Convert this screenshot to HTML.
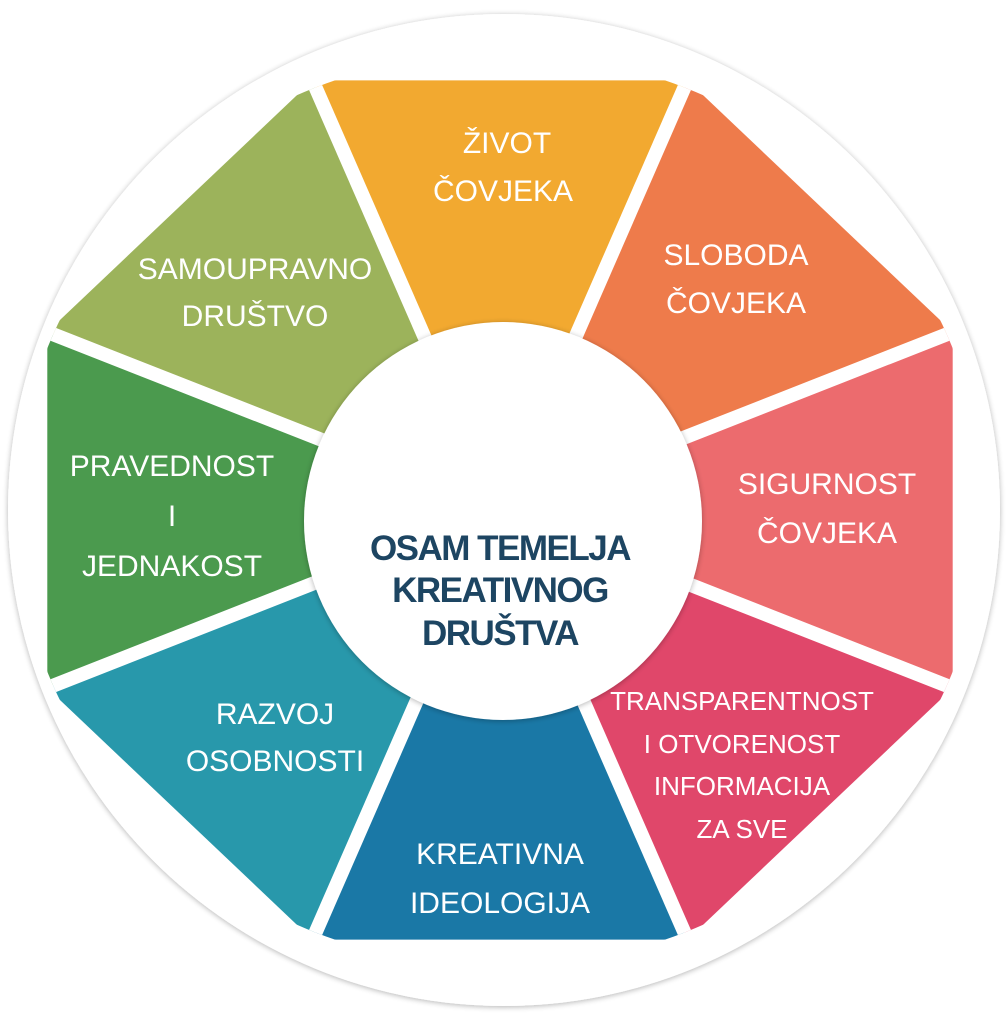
<!DOCTYPE html>
<html><head><meta charset="utf-8"><style>
html,body{margin:0;padding:0;background:#fff;width:1008px;height:1024px;overflow:hidden}
svg{display:block}
.t{font-family:"Liberation Sans",sans-serif;font-size:30px;fill:#fff;text-anchor:middle}
.s{font-size:26px}
.c{font-family:"Liberation Sans",sans-serif;font-weight:bold;font-size:35px;fill:#1d4562;text-anchor:middle;letter-spacing:-1.5px}
</style></head><body>
<svg width="1008" height="1024" viewBox="0 0 1008 1024">
<defs>
<filter id="sh" x="-10%" y="-10%" width="120%" height="120%"><feGaussianBlur in="SourceAlpha" stdDeviation="3"/><feOffset dx="0" dy="1"/><feComponentTransfer><feFuncA type="linear" slope="0.3"/></feComponentTransfer><feMerge><feMergeNode/><feMergeNode in="SourceGraphic"/></feMerge></filter>
<clipPath id="cl"><ellipse cx="500" cy="510" rx="484" ry="457"/></clipPath>
</defs>
<circle cx="504" cy="510" r="496" fill="#fff" filter="url(#sh)"/>
<g clip-path="url(#cl)">
<polygon points="500,510 312.5,80.4 687.5,80.4" fill="#f2a930"/>
<polygon points="500,510 687.5,80.4 952.7,332" fill="#ee7b4b"/>
<polygon points="500,510 952.7,332 952.7,688" fill="#ec6b6e"/>
<polygon points="500,510 952.7,688 687.5,939.6" fill="#e0476a"/>
<polygon points="500,510 687.5,939.6 312.5,939.6" fill="#1a78a6"/>
<polygon points="500,510 312.5,939.6 47.3,688" fill="#2898ab"/>
<polygon points="500,510 47.3,688 47.3,332" fill="#4b9a4e"/>
<polygon points="500,510 47.3,332 312.5,80.4" fill="#9cb35b"/>
<g stroke="#fff" stroke-width="14">
<line x1="500" y1="510" x2="312.5" y2="80.4"/>
<line x1="500" y1="510" x2="687.5" y2="80.4"/>
<line x1="500" y1="510" x2="952.7" y2="332"/>
<line x1="500" y1="510" x2="952.7" y2="688"/>
<line x1="500" y1="510" x2="687.5" y2="939.6"/>
<line x1="500" y1="510" x2="312.5" y2="939.6"/>
<line x1="500" y1="510" x2="47.3" y2="688"/>
<line x1="500" y1="510" x2="47.3" y2="332"/>
</g>
</g>
<circle cx="503" cy="521" r="199" fill="#fff" filter="url(#sh)"/>
<text class="t" x="507" y="153">ŽIVOT</text>
<text class="t" x="503" y="201">ČOVJEKA</text>
<text class="t" x="736" y="265">SLOBODA</text>
<text class="t" x="736" y="313">ČOVJEKA</text>
<text class="t" x="827" y="494">SIGURNOST</text>
<text class="t" x="827" y="543">ČOVJEKA</text>
<text class="t s" x="742" y="710">TRANSPARENTNOST</text>
<text class="t s" x="742" y="753">I OTVORENOST</text>
<text class="t s" x="742" y="795">INFORMACIJA</text>
<text class="t s" x="742" y="838">ZA SVE</text>
<text class="t" x="500" y="864">KREATIVNA</text>
<text class="t" x="500" y="913">IDEOLOGIJA</text>
<text class="t" x="275" y="724">RAZVOJ</text>
<text class="t" x="275" y="771">OSOBNOSTI</text>
<text class="t" x="172" y="476">PRAVEDNOST</text>
<text class="t" x="172" y="526">I</text>
<text class="t" x="172" y="576">JEDNAKOST</text>
<text class="t" x="255" y="279">SAMOUPRAVNO</text>
<text class="t" x="255" y="326">DRUŠTVO</text>
<text class="c" x="500" y="560">OSAM TEMELJA</text>
<text class="c" x="500" y="602">KREATIVNOG</text>
<text class="c" x="500" y="645">DRUŠTVA</text>
</svg>
</body></html>
